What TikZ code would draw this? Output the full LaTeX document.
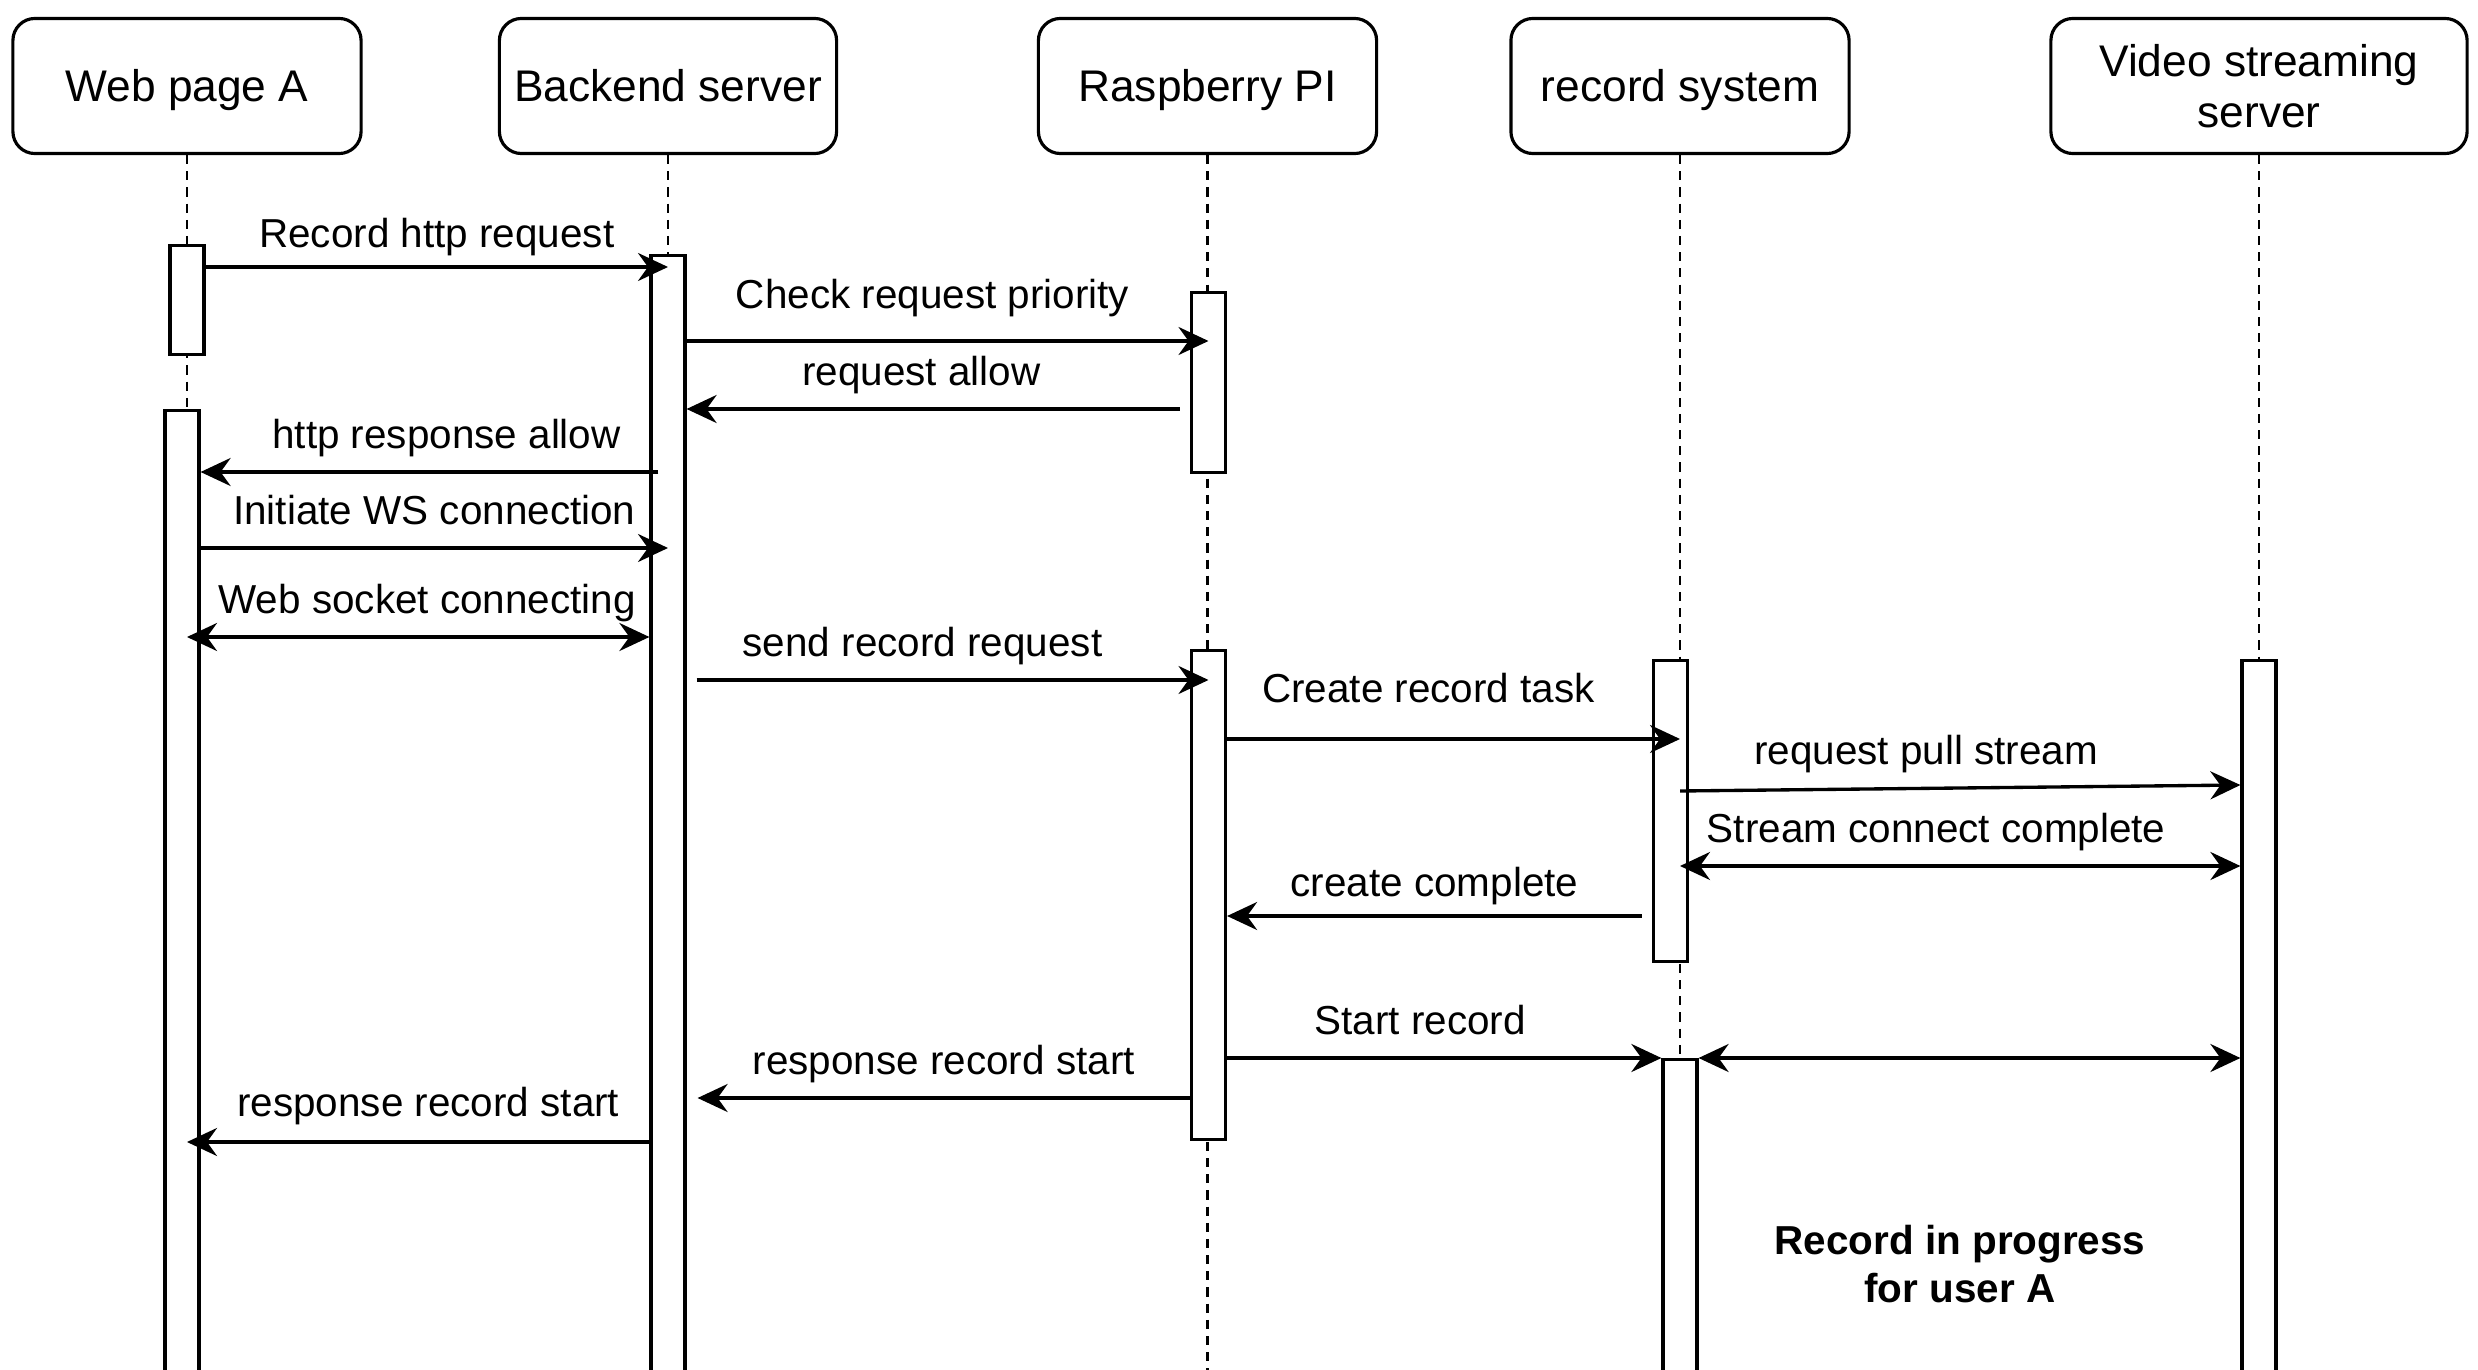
\documentclass[tikz,border=0pt]{standalone}
\usepackage{fontspec}
\setmainfont{Liberation Sans}
\usetikzlibrary{positioning}
\usetikzlibrary{calc}
\usetikzlibrary{arrows.meta}

\tikzset{
  hdr/.style={draw, line width=0.9pt, rounded corners=2.2mm, minimum height=1.35cm,
    align=center, font=\fontsize{12.6}{14.4}\selectfont},
  hdrone/.style={hdr, text height=0.86em, text depth=0pt},
  life/.style={line width=0.7pt, dash pattern=on 2.6pt off 2pt},
  bar/.style={draw, fill=white, line width=0.9pt, minimum width=0.34cm, inner sep=0pt, anchor=north},
  msg/.style={->, line width=0.95pt},
  dmsg/.style={<->, line width=0.95pt},
  lbl/.style={above=2pt, inner sep=2pt, text height=0.72em, text depth=0.22em,
    font=\fontsize{11.5}{13.9}\selectfont},
  >={Stealth[length=3mm, width=2.8mm, inset=1mm]}
}

\begin{document}
\begin{tikzpicture}[x=0.01cm, y=-0.01cm]
  \useasboundingbox (0,0) rectangle (2478,1370);

  \node[hdrone, minimum width=3.48cm] (web) at (187,86) {Web page A};
  \node[hdrone, minimum width=3.37cm] (back) at (668,86) {Backend server};
  \node[hdrone, minimum width=3.38cm] (rpi) at (1207.5,86) {Raspberry PI};
  \node[hdrone, minimum width=3.38cm] (rec) at (1680,86) {record system};
  \node[hdr, minimum width=4.16cm] (vid) at (2259,86) {Video streaming\\server};

  \foreach \n in {web,back,rpi,rec,vid}
    \draw[life] (\n.south) -- (\n |- 0,1370);

  \node[bar, minimum height=1.09cm] (webA1) at (187,244) {};
  \node[bar, minimum height=9.71cm] (webA2) at (182,409) {};
  \node[bar, minimum height=11.26cm] (backA) at (668,254) {};
  \node[bar, minimum height=1.8cm] (rpiA1) at (1208.5,291) {};
  \node[bar, minimum height=4.89cm] (rpiA2) at (1208.5,649) {};
  \node[bar, minimum height=3.01cm] (recA1) at (1670.5,659) {};
  \node[bar, minimum height=3.22cm] (recA2) at (1680,1058) {};
  \node[bar, minimum height=7.21cm] (vidA) at (2259,659) {};

  \draw[msg] (webA1.east |- 0,267) -- node[lbl, yshift=-0.04cm] {Record http request} (backA |- 0,267);
  \draw[msg] (backA.east |- 0,341) -- node[lbl, xshift=-0.15cm, yshift=0.09cm] {Check request priority} (rpiA1 |- 0,341);
  \draw[msg] ($(rpiA1.west |- 0,409)+(-10,0)$) -- node[lbl, xshift=-0.12cm] {request allow} (backA.east |- 0,409);
  \draw[msg] ($(backA.west |- 0,472)+(9,0)$) -- node[lbl, xshift=0.17cm] {http response allow} (webA2.east |- 0,472);
  \draw[msg] (webA2.east |- 0,548) -- node[lbl] {Initiate WS connection} (backA |- 0,548);
  \draw[dmsg] (web |- 0,637) -- node[lbl, xshift=0.09cm] {Web socket connecting} (backA.west |- 0,637);
  \draw[msg] ($(backA.east |- 0,680)+(10,0)$) -- node[lbl, xshift=-0.3cm] {send record request} (rpiA2 |- 0,680);
  \draw[msg] (rpiA2.east |- 0,739) -- node[lbl, xshift=-0.25cm, yshift=0.13cm] {Create record task} (rec |- 0,739);
  \draw[msg] (rec |- 0,791) -- node[lbl, xshift=-0.34cm] {request pull stream} (vidA.west |- 0,785);
  \draw[dmsg] (rec |- 0,866) -- node[lbl, xshift=-0.24cm] {Stream connect complete} (vidA.west |- 0,866);
  \draw[msg] ($(recA1.west |- 0,916)+(-10,0)$) -- node[lbl, yshift=-0.04cm] {create complete} (rpiA2.east |- 0,916);
  \draw[msg] (rpiA2.east |- 0,1058) -- node[lbl, xshift=-0.24cm] {Start record} (recA2.west |- 0,1058);
  \draw[dmsg] (recA2.east |- 0,1058) -- (vidA.west |- 0,1058);
  \draw[msg] (rpiA2.west |- 0,1098) -- node[lbl] {response record start} ($(backA.east |- 0,1098)+(11,0)$);
  \draw[msg] (backA.west |- 0,1142) -- node[lbl, xshift=0.1cm, yshift=0.02cm] {response record start} (web |- 0,1142);

  \node[align=center, font=\bfseries\fontsize{11.5}{13.9}\selectfont] (prog) at (1960,1264) {Record in progress\\for user A};
\end{tikzpicture}
\end{document}
